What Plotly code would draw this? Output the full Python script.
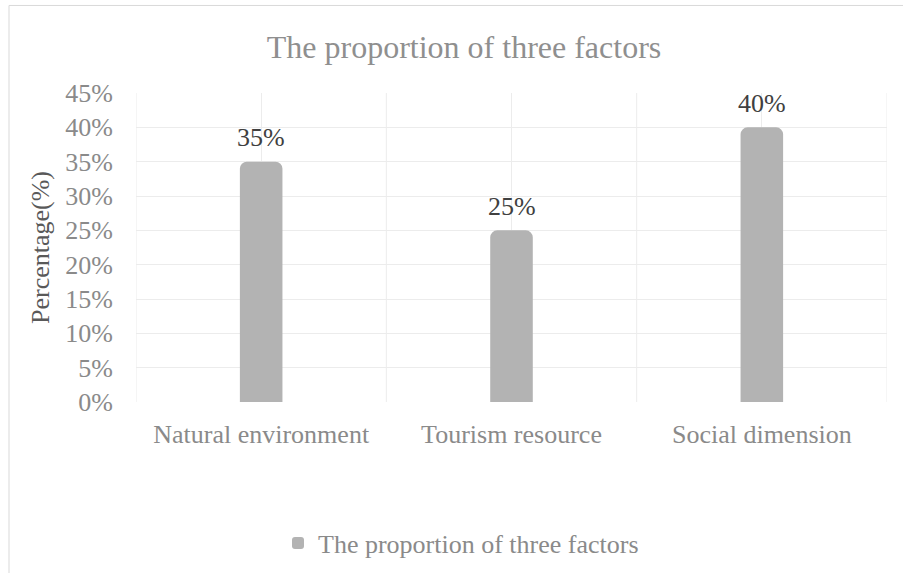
import plotly.graph_objects as go

categories = ["Natural environment", "Tourism resource", "Social dimension"]
values = [0.35, 0.25, 0.40]
labels = ["35%", "25%", "40%"]
series_name = "The proportion of three factors"
chart_title = "The proportion of three factors"
y_title = "Percentage(%)"

FONT = "Liberation Serif, Times New Roman, serif"
BAR = "#b3b3b3"
GRID = "#ececec"
TICK = "#8a8a8a"

W, H = 903, 573
L, R, T, B = 136, 16, 92.7, 170.7

fig = go.Figure()
fig.add_trace(go.Bar(
    x=categories, y=values, name=series_name,
    marker=dict(color=BAR, line=dict(width=0), cornerradius=7),
    width=0.17, showlegend=True, hoverinfo="skip",
))

for c, v, t in zip(categories, values, labels):
    fig.add_annotation(x=c, y=v, text=t, showarrow=False, yanchor="middle",
                       yshift=24, font=dict(family=FONT, size=26, color="#404040"))

# category boundary gridlines
for i in range(len(categories) + 1):
    fig.add_shape(type="line", xref="x", yref="paper", x0=i - 0.5, x1=i - 0.5,
                  y0=0, y1=1, line=dict(color=GRID, width=1), layer="below")

# chart frame
pw, ph = W - L - R, H - T - B
fig.add_shape(type="rect", xref="paper", yref="paper",
              x0=(9 - L) / pw, x1=(W + 40 - L) / pw,
              y0=-(H + 40 - (H - B)) / ph, y1=((H - B) - 5) / ph,
              line=dict(color="#d9d9d9", width=1), fillcolor="rgba(0,0,0,0)", layer="below")

fig.update_layout(
    width=W, height=H,
    margin=dict(l=L, r=R, t=T, b=B, autoexpand=False),
    paper_bgcolor="white", plot_bgcolor="white",
    font=dict(family=FONT, size=26, color=TICK),
    title=dict(text=chart_title, xref="container", yref="container",
               x=464 / W, xanchor="center", y=1 - 47 / H, yanchor="middle",
               font=dict(family=FONT, size=32, color="#8f8f8f")),
    legend=dict(orientation="h", xref="container", yref="container",
                x=461 / W, xanchor="center", y=1 - 543 / H, yanchor="middle",
                font=dict(family=FONT, size=26, color=TICK),
                itemwidth=30),
)
fig.update_xaxes(showgrid=True, gridcolor=GRID, gridwidth=1, showline=False,
                 zeroline=False, ticks="", ticklabelstandoff=14,
                 tickfont=dict(family=FONT, size=26, color=TICK),
                 range=[-0.5, len(categories) - 0.5])
fig.update_yaxes(range=[0, 0.45], dtick=0.05, tickformat=".0%",
                 showgrid=True, gridcolor=GRID, gridwidth=1, zeroline=False,
                 showline=False, ticks="", ticklabelstandoff=22,
                 tickfont=dict(family=FONT, size=26, color=TICK),
                 title=dict(text=y_title, standoff=8,
                            font=dict(family=FONT, size=26, color="#595959")))

fig.write_html("out.html", config={"displayModeBar": False},
               post_script="document.body.style.margin='0';document.body.style.overflow='hidden';")
